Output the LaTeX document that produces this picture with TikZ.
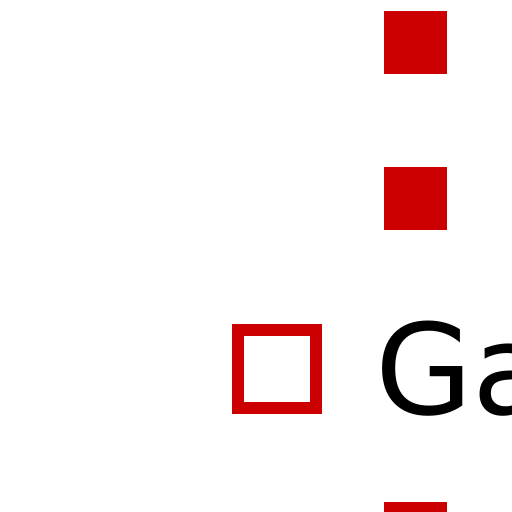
\documentclass[tikz,border=0pt]{standalone}
\usepackage{fontspec}
\setmainfont{DejaVu Sans}
\definecolor{legred}{HTML}{CC0000}
\begin{document}
\begin{tikzpicture}[x=1pt,y=-1pt,
  fillsq/.style={fill=legred,draw=none,minimum size=63pt,inner sep=0pt,outer sep=0pt},
  hollowsq/.style={draw=legred,line width=12pt,fill=none,minimum size=78pt,inner sep=0pt,outer sep=0pt},
  lbl/.style={anchor=base west,inner sep=0pt,outer sep=0pt,font=\fontsize{126pt}{130pt}\selectfont}]
\useasboundingbox (0,0) rectangle (512,512);
\clip (0,0) rectangle (512,512);
\node[fillsq] (s1) at (415.5,42.5) {};
\node[fillsq] (s2) at (415.5,198.5) {};
\node[hollowsq] (h) at (277,369) {};
\node[lbl] (t) at (375,414) {Ga};
\node[fillsq] (s3) at (415.5,533.5) {};
\end{tikzpicture}
\end{document}
